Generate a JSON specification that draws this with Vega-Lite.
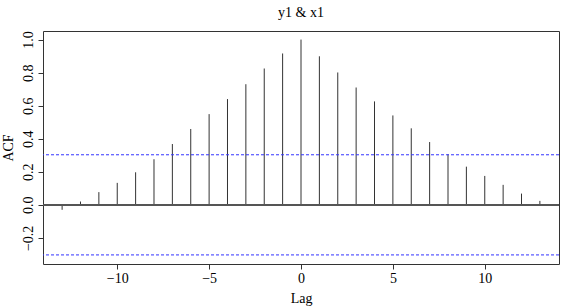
{
  "$schema": "https://vega.github.io/schema/vega-lite/v6.json",
  "width": 516,
  "height": 233,
  "autosize": {"type": "none"},
  "padding": {"left": 43, "top": 31, "right": 7, "bottom": 44},
  "background": "white",
  "title": {"text": "y1 & x1", "font": "Liberation Serif", "fontSize": 14, "fontWeight": "normal", "color": "black", "baseline": "middle", "offset": 4, "anchor": "middle", "frame": "group"},
  "config": {
    "view": {"stroke": "#333", "strokeWidth": 1},
    "axis": {"labelFont": "Liberation Serif", "titleFont": "Liberation Serif", "labelFontSize": 14, "titleFontSize": 14, "titleFontWeight": "normal", "labelColor": "black", "titleColor": "black", "tickColor": "#333", "tickSize": 5, "domain": false, "grid": false, "labelOverlap": false},
    "axisY": {"labelAngle": -90, "labelAlign": "center", "labelBaseline": "bottom", "labelPadding": 3, "labelOverlap": false, "labelBound": false, "labelFlush": false}
  },
  "datasets": {
    "acf": [
      {"lag": -13, "acf": -0.030},
      {"lag": -12, "acf": 0.020},
      {"lag": -11, "acf": 0.077},
      {"lag": -10, "acf": 0.133},
      {"lag": -9, "acf": 0.197},
      {"lag": -8, "acf": 0.276},
      {"lag": -7, "acf": 0.368},
      {"lag": -6, "acf": 0.459},
      {"lag": -5, "acf": 0.549},
      {"lag": -4, "acf": 0.640},
      {"lag": -3, "acf": 0.730},
      {"lag": -2, "acf": 0.825},
      {"lag": -1, "acf": 0.916},
      {"lag": 0, "acf": 1.000},
      {"lag": 1, "acf": 0.899},
      {"lag": 2, "acf": 0.801},
      {"lag": 3, "acf": 0.710},
      {"lag": 4, "acf": 0.626},
      {"lag": 5, "acf": 0.541},
      {"lag": 6, "acf": 0.463},
      {"lag": 7, "acf": 0.380},
      {"lag": 8, "acf": 0.306},
      {"lag": 9, "acf": 0.231},
      {"lag": 10, "acf": 0.175},
      {"lag": 11, "acf": 0.121},
      {"lag": 12, "acf": 0.068},
      {"lag": 13, "acf": 0.024}
    ],
    "ci": [{"ci": 0.303}, {"ci": -0.303}]
  },
  "layer": [
    {
      "data": {"name": "acf"},
      "mark": {"type": "rule", "color": "#333", "strokeWidth": 1},
      "encoding": {
        "x": {"field": "lag", "type": "quantitative", "scale": {"domain": [-14.04, 14.04], "nice": false, "zero": false},
              "axis": {"values": [-10, -5, 0, 5, 10], "title": "Lag", "labelPadding": 2, "titlePadding": 6}},
        "y": {"field": "acf", "type": "quantitative", "scale": {"domain": [-0.358, 1.052], "nice": false, "zero": false},
              "axis": {"values": [-0.2, 0, 0.2, 0.4, 0.6, 0.8, 1.0], "format": ".1f", "labelOverlap": false, "title": "ACF", "titlePadding": 6}},
        "y2": {"datum": 0}
      }
    },
    {
      "data": {"name": "acf"},
      "mark": {"type": "rule", "color": "#555", "strokeWidth": 1},
      "encoding": {"y": {"datum": 0, "type": "quantitative", "axis": {"values": [-0.2, 0, 0.2, 0.4, 0.6, 0.8, 1.0], "format": ".1f", "labelOverlap": false, "title": "ACF", "titlePadding": 6}}}
    },
    {
      "data": {"name": "ci"},
      "mark": {"type": "rule", "color": "#3333ff", "strokeWidth": 1, "strokeDash": [3, 2]},
      "encoding": {"y": {"field": "ci", "type": "quantitative", "axis": {"values": [-0.2, 0, 0.2, 0.4, 0.6, 0.8, 1.0], "format": ".1f", "labelOverlap": false, "title": "ACF", "titlePadding": 6}}}
    }
  ]
}
